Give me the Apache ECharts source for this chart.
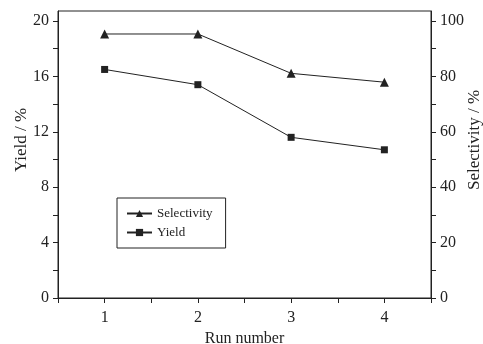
<!DOCTYPE html>
<html><head><meta charset="utf-8">
<script src="https://cdn.jsdelivr.net/npm/echarts@6/dist/echarts.min.js"></script>
<style>html,body{margin:0;padding:0;background:#fff}#c{width:483px;height:344px}</style>
</head><body><div id="c"></div>
<script>
var runs = [1, 2, 3, 4];
var selectivity = [95.3, 95.3, 81.1, 77.9];
var yieldVals = [16.5, 15.4, 11.6, 10.7];
var xTickLabels = [1, 2, 3, 4];
var xMinorTicks = [0.5, 1, 1.5, 2, 2.5, 3, 3.5, 4, 4.5];
var yLeftLabels = [0, 4, 8, 12, 16, 20];
var yLeftTicks = [0, 2, 4, 6, 8, 10, 12, 14, 16, 18, 20];
var yRightLabels = [0, 20, 40, 60, 80, 100];
var yRightTicks = [0, 10, 20, 30, 40, 50, 60, 70, 80, 90, 100];

var font = 'Liberation Serif';
var ink = '#222';
var chart = echarts.init(document.getElementById('c'));
function pairs(v) { return runs.map(function (r, i) { return [r, v[i]]; }); }
chart.setOption({
  animation: false,
  backgroundColor: '#fff',
  grid: { left: 58, right: 52, top: 11, bottom: 46, containLabel: false, outerBoundsMode: 'none',
          show: true, borderColor: ink, borderWidth: 1, backgroundColor: 'transparent' },
  legend: {
    orient: 'vertical', left: 117, top: 198,
    borderColor: ink, borderWidth: 1, padding: [9, 13, 9, 9],
    itemWidth: 25, itemHeight: 9, itemGap: 6,
    textStyle: { fontFamily: font, fontSize: 13, color: ink },
    data: ['Selectivity', 'Yield']
  },
  xAxis: {
    type: 'value', min: 0.5, max: 4.5,
    name: 'Run number', nameLocation: 'middle', nameGap: 29,
    nameTextStyle: { fontFamily: font, fontSize: 16, color: ink },
    axisLine: { show: true, lineStyle: { color: ink } },
    axisTick: { show: true, length: 5, customValues: xMinorTicks, lineStyle: { color: ink } },
    axisLabel: { customValues: xTickLabels, fontFamily: font, fontSize: 16, color: ink, margin: 12 },
    splitLine: { show: false }
  },
  yAxis: [{
    type: 'value', min: 0, max: 20.72, position: 'left',
    name: 'Yield / %', nameLocation: 'middle', nameGap: 28, nameRotate: 90, nameMoveOverlap: false,
    nameTextStyle: { fontFamily: font, fontSize: 17, color: ink, padding: [0, 0, 0, 29] },
    axisLine: { show: true, lineStyle: { color: ink } },
    axisTick: { show: true, length: 5, customValues: yLeftTicks, lineStyle: { color: ink } },
    axisLabel: { customValues: yLeftLabels, fontFamily: font, fontSize: 16, color: ink, margin: 9 },
    splitLine: { show: false }
  }, {
    type: 'value', min: 0, max: 103.6, position: 'right',
    name: 'Selectivity / %', nameLocation: 'middle', nameGap: 35, nameRotate: 90, nameMoveOverlap: false,
    nameTextStyle: { fontFamily: font, fontSize: 17, color: ink, padding: [0, 0, 0, 29] },
    axisLine: { show: true, lineStyle: { color: ink } },
    axisTick: { show: true, length: 5, customValues: yRightTicks, lineStyle: { color: ink } },
    axisLabel: { customValues: yRightLabels, fontFamily: font, fontSize: 16, color: ink, margin: 9 },
    splitLine: { show: false }
  }],
  series: [{
    name: 'Selectivity', type: 'line', yAxisIndex: 1, data: pairs(selectivity),
    symbol: 'triangle', symbolSize: 9,
    lineStyle: { color: ink, width: 1 }, itemStyle: { color: ink }
  }, {
    name: 'Yield', type: 'line', yAxisIndex: 0, data: pairs(yieldVals),
    symbol: 'rect', symbolSize: 7,
    lineStyle: { color: ink, width: 1 }, itemStyle: { color: ink }
  }]
});
</script></body></html>
